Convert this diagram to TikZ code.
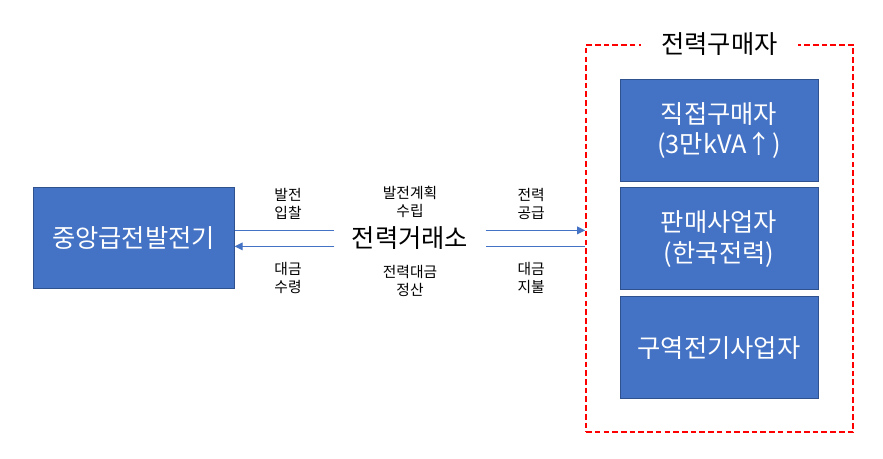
\documentclass[tikz,border=0pt]{standalone}
\usepackage{fontspec}
\setmainfont{Noto Sans CJK KR}
\usepackage{xcolor}
\usetikzlibrary{arrows.meta, positioning}
\definecolor{boxblue}{HTML}{4472C4}
\definecolor{boxedge}{HTML}{2F528F}

\begin{document}
\begin{tikzpicture}[
    node distance=0.14cm and 0.5cm,
    box/.style={draw=boxedge, fill=boxblue, text=white, align=center,
                font=\fontsize{18}{21.5}\selectfont, line width=0.7pt,
                minimum width=4.95cm, minimum height=2.55cm},
    lbl/.style={align=center, font=\fontsize{10.5}{12.5}\selectfont},
    ln/.style={draw=boxblue, line width=0.8pt},
    arr/.style={ln, -{Triangle[length=2mm, width=1.9mm]}}
]
\fill[white] (0,0) rectangle (22.075,11.45);

\node[box, minimum width=5.025cm, minimum height=2.525cm] (gen) at (3.34,5.49) {중앙급전발전기};
\node[font=\fontsize{18}{21.5}\selectfont, inner xsep=0.43cm] (kpx) at (10.25,5.49) {전력거래소};

\node[draw=red, line width=1.3pt, dash pattern=on 4pt off 2.2pt,
      minimum width=6.675cm, minimum height=9.675cm] (buyer) at (17.99,5.49) {};
\node[fill=white, inner xsep=0.5cm, font=\fontsize{18}{21.5}\selectfont] (buyertitle) at (buyer.north) {전력구매자};

\node[box] (direct) at (17.975,8.19) {직접구매자\\(3만kVA↑)};
\node[box, below=of direct] (sale) {판매사업자\\(한국전력)};
\node[box, below=of sale] (local) {구역전기사업자};

% 발전사 <-> 거래소
\draw[ln] ([yshift=0.2cm]gen.east) -- ([yshift=0.2cm]kpx.west);
\draw[arr] ([yshift=-0.2cm]kpx.west) -- ([yshift=-0.2cm]gen.east);
% 거래소 <-> 구매자
\draw[arr] ([yshift=0.2cm]kpx.east) -- ([yshift=0.2cm]buyer.west);
\draw[ln] ([yshift=-0.2cm]buyer.west) -- ([yshift=-0.2cm]kpx.east);

\node[lbl] (bid) at (7.2,6.35) {발전\\입찰};
\node[lbl] (recv) at (7.2,4.5) {대금\\수령};
\node[lbl] (plan) at (10.25,6.4) {발전계획\\수립};
\node[lbl] (settle) at (10.25,4.43) {전력대금\\정산};
\node[lbl] (supply) at (13.28,6.35) {전력\\공급};
\node[lbl] (pay) at (13.28,4.5) {대금\\지불};
\end{tikzpicture}
\end{document}
